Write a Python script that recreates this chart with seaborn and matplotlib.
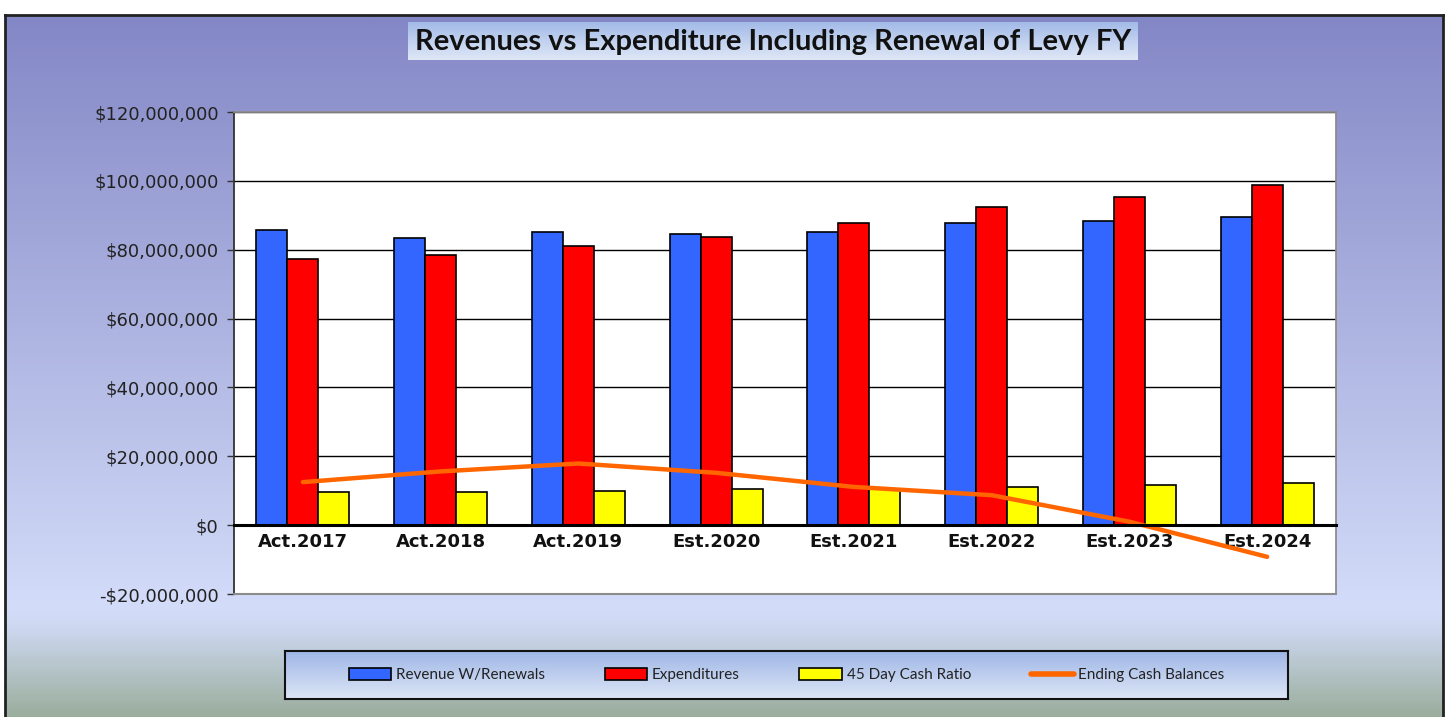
import numpy as np
import pandas as pd
import matplotlib
matplotlib.use("Agg")
import matplotlib.pyplot as plt
import matplotlib.ticker as mticker
from matplotlib.colors import LinearSegmentedColormap
from matplotlib.lines import Line2D
from matplotlib.patches import Patch
import seaborn as sns

# data (in dollars)
years = ["Act.2017", "Act.2018", "Act.2019", "Est.2020",
         "Est.2021", "Est.2022", "Est.2023", "Est.2024"]
revenue = [85.8e6, 83.4e6, 85.2e6, 84.6e6, 85.0e6, 87.7e6, 88.4e6, 89.6e6]
expenditures = [77.3e6, 78.5e6, 81.1e6, 83.8e6, 87.9e6, 92.5e6, 95.4e6, 98.8e6]
cash_ratio = [9.6e6, 9.6e6, 10.0e6, 10.4e6, 10.5e6, 11.1e6, 11.6e6, 12.1e6]
ending_cash = [12.5e6, 15.6e6, 17.9e6, 15.2e6, 11.1e6, 8.7e6, 1.0e6, -9.2e6]

series_names = ["Revenue W/Renewals", "Expenditures", "45 Day Cash Ratio"]
bar_colors = ["#3366ff", "#ff0000", "#ffff00"]
line_name = "Ending Cash Balances"
line_color = "#ff6600"

df = pd.DataFrame({
    "year": years * 3,
    "series": [series_names[0]] * 8 + [series_names[1]] * 8 + [series_names[2]] * 8,
    "value": revenue + expenditures + cash_ratio,
})

sns.set_theme(style="white")
plt.rcParams["font.family"] = ["DejaVu Sans"]

W, H = 1450, 717
fig = plt.figure(figsize=(W / 100, H / 100), dpi=100)
fig.patch.set_facecolor("white")

def fbox(x0, y0, x1, y1):
    # pixel box (top-left origin) -> figure fraction rect
    return [x0 / W, 1 - y1 / H, (x1 - x0) / W, (y1 - y0) / H]

# background gradient inside the outer frame
bg = fig.add_axes(fbox(5, 15, 1443, 730), zorder=-10)
bg_cmap = LinearSegmentedColormap.from_list(
    "bg", [(0.0, "#8487c6"), (0.83, "#d3dcf9"), (0.86, "#cdd8f0"), (1.0, "#94a892")])
bg.imshow(np.linspace(0, 1, 300).reshape(-1, 1), aspect="auto", cmap=bg_cmap,
          extent=[0, 1, 0, 1], origin="upper")
bg.set_xticks([])
bg.set_yticks([])
for s in bg.spines.values():
    s.set_color("#222222")
    s.set_linewidth(2)

# title box
tb = fig.add_axes(fbox(408, 22, 1138, 60), zorder=-5)
tb.imshow(np.linspace(0, 1, 100).reshape(-1, 1), aspect="auto",
          cmap=LinearSegmentedColormap.from_list("tb", ["#a3bbe8", "#dfe7f6"]),
          extent=[0, 1, 0, 1], origin="upper")
tb.set_xticks([])
tb.set_yticks([])
for s in tb.spines.values():
    s.set_visible(False)
tb.text(0.5, 0.47, "Revenues vs Expenditure Including Renewal of Levy FY",
        ha="center", va="center", fontsize=21, fontweight="bold",
        family=["Lato", "DejaVu Sans"], color="#111111",
        transform=tb.transAxes)

# main plot
ax = fig.add_axes(fbox(234, 112, 1336, 594))
ax.set_facecolor("white")
sns.barplot(data=df, x="year", y="value", hue="series", hue_order=series_names,
            palette=bar_colors, width=0.675, gap=0, edgecolor="black",
            linewidth=1.2, saturation=1, legend=False, ax=ax, zorder=3)
sns.lineplot(x=np.arange(len(years)), y=ending_cash, color=line_color,
             linewidth=3.2, ax=ax, zorder=4, solid_capstyle="round")

ax.set_xlim(-0.5, len(years) - 0.5)
ax.set_ylim(-20e6, 120e6)
ax.yaxis.set_major_locator(mticker.MultipleLocator(20e6))
ax.yaxis.set_major_formatter(mticker.FuncFormatter(
    lambda v, p: ("-$" if v < 0 else "$") + f"{abs(v):,.0f}"))
ax.grid(axis="y", color="black", linewidth=1, zorder=0)
ax.set_axisbelow(True)
ax.set_xlabel("")
ax.set_ylabel("")

# x axis sits at zero
ax.spines["bottom"].set_position(("data", 0))
ax.spines["bottom"].set_linewidth(2.2)
ax.spines["bottom"].set_color("black")
ax.spines["bottom"].set_zorder(5)
ax.spines["left"].set_color("#333333")
ax.spines["left"].set_linewidth(1.3)
for side in ["top", "right"]:
    ax.spines[side].set_color("#8c8c8c")
    ax.spines[side].set_linewidth(1.3)
ax.plot([0, 1], [0, 0], transform=ax.transAxes, color="#8c8c8c",
        linewidth=1.5, clip_on=False, zorder=6)

ax.tick_params(axis="x", which="major", length=0, pad=6, labelsize=13)
ax.set_xticks(np.arange(len(years)) + 0.5, minor=True)
ax.tick_params(axis="x", which="minor", length=5, width=2, direction="out", color="black")
for lbl in ax.get_xticklabels():
    lbl.set_fontweight("bold")
    lbl.set_color("#111111")
ax.tick_params(axis="y", length=5, width=1, direction="out", color="#333333",
               labelsize=13, labelcolor="#222222", pad=6, left=True)

# legend box with gradient
lb = fig.add_axes(fbox(285, 651, 1288, 699), zorder=1)
lb.imshow(np.linspace(0, 1, 100).reshape(-1, 1), aspect="auto",
          cmap=LinearSegmentedColormap.from_list("lb", ["#9fb6e6", "#dde6f6"]),
          extent=[0, 1, 0, 1], origin="upper")
lb.set_xticks([])
lb.set_yticks([])
for s in lb.spines.values():
    s.set_color("#111111")
    s.set_linewidth(1.5)

handles = [Patch(facecolor=c, edgecolor="black", linewidth=1.2) for c in bar_colors]
handles.append(Line2D([0], [0], color=line_color, linewidth=4))
labels = series_names + [line_name]
lb.legend(handles, labels, loc="center", ncol=4, frameon=False,
          prop={"family": ["Lato", "DejaVu Sans"], "size": 11},
          handlelength=2.8, handleheight=0.8, handletextpad=0.3,
          columnspacing=3.9, labelcolor="#222222")

fig.savefig("out.png", dpi=100)
